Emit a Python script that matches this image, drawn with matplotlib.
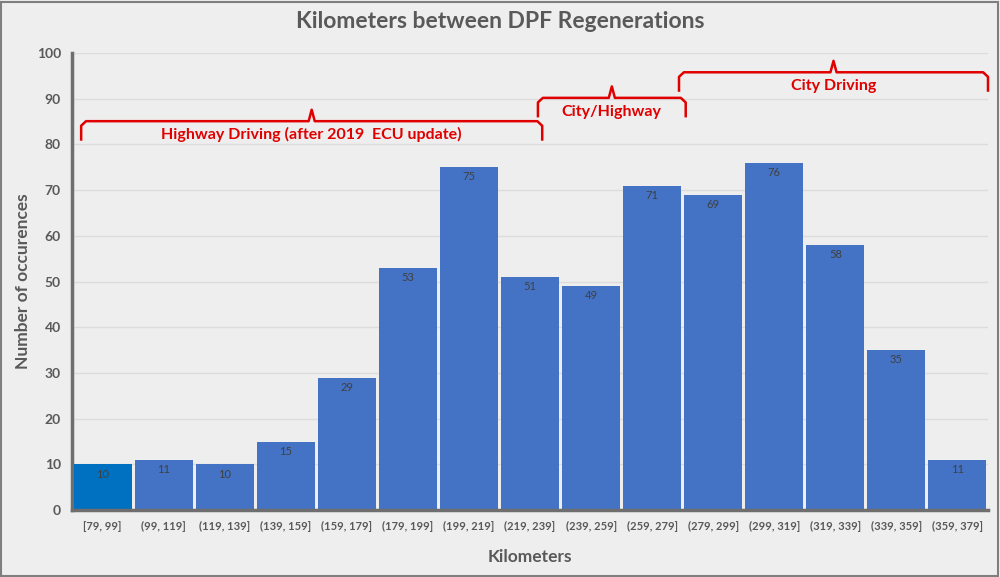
import matplotlib.pyplot as plt
from matplotlib.patches import Rectangle

plt.rcParams['font.family'] = ['Lato', 'DejaVu Sans']

# histogram bins and counts
bins = ['[79, 99]', '(99, 119]', '(119, 139]', '(139, 159]', '(159, 179]',
        '(179, 199]', '(199, 219]', '(219, 239]', '(239, 259]', '(259, 279]',
        '(279, 299]', '(299, 319]', '(319, 339]', '(339, 359]', '(359, 379]']
counts = [10, 11, 10, 15, 29, 53, 75, 51, 49, 71, 69, 76, 58, 35, 11]

# brackets: (label, x start, x end, y level) in bar-index / count units
bracket_labels = ['Highway Driving (after 2019  ECU update)', 'City/Highway', 'City Driving']
bracket_start = [-0.35, 7.13, 9.44]
bracket_end = [7.2, 9.55, 14.5]
bracket_level = [85.1, 90.2, 95.8]

bg = '#EEEEEE'
gray = '#595959'
red = '#E00000'

fig = plt.figure(figsize=(10, 5.77), dpi=100, facecolor=bg)
fig.patches.append(Rectangle((0.001, 0.002), 0.997, 0.995, transform=fig.transFigure,
                             fill=False, edgecolor='#7F7F7F', linewidth=1.5))
ax = fig.add_axes([0.072, 0.116, 0.916, 0.792])
ax.set_facecolor(bg)

x = range(len(bins))
colors = ['#0070C0'] + ['#4472C4'] * (len(bins) - 1)
bars = ax.bar(x, counts, width=0.95, color=colors, zorder=3)
for b, v in zip(bars, counts):
    ax.annotate(str(v), (b.get_x() + b.get_width() / 2, v), xytext=(0, -3),
                textcoords='offset points', ha='center', va='top',
                fontsize=8, color='#404040', zorder=4)

ax.set_xlim(-0.5, len(bins) - 0.5)
ax.set_ylim(0, 100)
ax.set_yticks(range(0, 101, 10))
ax.set_xticks(list(x))
ax.set_xticklabels(bins, fontsize=8, color=gray, fontweight='bold')
ax.tick_params(axis='y', labelsize=10, labelcolor=gray, length=0, pad=8)
ax.tick_params(axis='x', length=0, pad=8)
for lab in ax.get_yticklabels():
    lab.set_fontweight('bold')
ax.grid(axis='y', color='#DCDCDC', linewidth=1, zorder=0)

for s in ['top', 'right']:
    ax.spines[s].set_visible(False)
ax.spines['left'].set_color('#6E6E6E')
ax.spines['left'].set_linewidth(2.5)
ax.spines['bottom'].set_color('#6E6E6E')
ax.spines['bottom'].set_linewidth(2.5)
ax.spines['bottom'].set_zorder(5)

# curly-ish brackets with a small peak in the middle
for label, x0, x1, y in zip(bracket_labels, bracket_start, bracket_end, bracket_level):
    xm = (x0 + x1) / 2
    ax.plot([x0, x0, x0 + 0.08, xm - 0.05, xm, xm + 0.05, x1 - 0.08, x1, x1],
            [y - 4, y - 1, y, y, y + 2.5, y, y, y - 1, y - 4],
            color=red, linewidth=1.8, clip_on=False, zorder=6,
            solid_joinstyle='round')
    ax.text(xm, y - 3.0, label, ha='center', va='center', color=red,
            fontsize=11.5, fontweight='bold', zorder=6)

fig.text(0.5, 0.962, 'Kilometers between DPF Regenerations', ha='center', va='center',
         fontsize=16.5, fontweight='bold', color=gray)
ax.set_xlabel('Kilometers', fontsize=12.5, fontweight='bold', color=gray, labelpad=12)
ax.set_ylabel('Number of occurences', fontsize=12.5, fontweight='bold', color=gray, labelpad=4)

plt.savefig('out.png', dpi=100, facecolor=bg)
plt.close()
